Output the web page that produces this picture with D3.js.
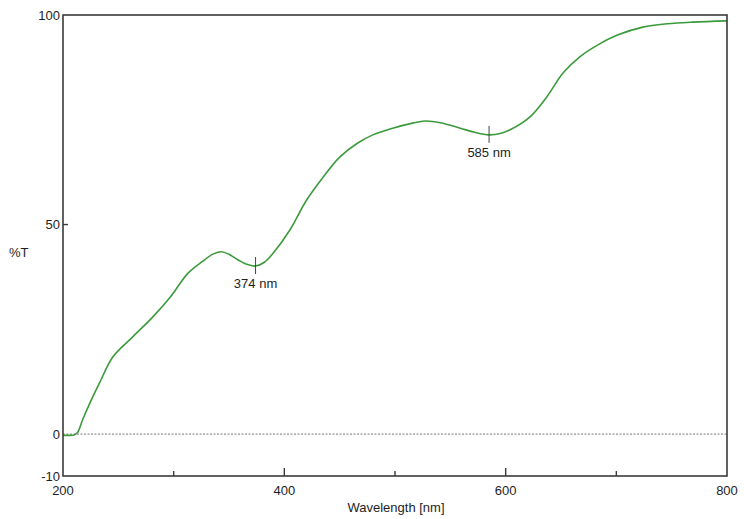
<!DOCTYPE html>
<html>
<head>
<meta charset="utf-8">
<script src="https://cdn.jsdelivr.net/npm/d3@7"></script>
<style>
  body { margin: 0; background: #fff; }
  svg { display: block; font-family: "Liberation Sans", Arial, sans-serif; }
</style>
</head>
<body>
<svg id="chart" width="744" height="519"></svg>
<script>
// Transmission spectrum: wavelength (nm) vs %T
const wavelength = [200, 205, 210, 213, 218, 225, 233, 245, 263, 281, 297, 313, 326, 336, 343, 350, 358, 366, 374, 382, 390, 405, 420, 435, 450, 466, 480, 498, 516, 527, 541, 559, 572, 585, 596, 604, 622, 637, 652, 667, 683, 701, 724, 746, 769, 800];
const transmission = [-0.3, -0.3, -0.2, 0.3, 3.6, 7.8, 12.2, 18.4, 23.2, 27.9, 32.7, 38.4, 41.2, 43.0, 43.5, 42.9, 41.6, 40.5, 40.1, 41.0, 43.2, 48.7, 55.8, 61.3, 66.1, 69.4, 71.4, 73.0, 74.2, 74.7, 74.3, 73.0, 72.0, 71.4, 71.8, 72.6, 75.7, 80.4, 86.2, 90.0, 92.8, 95.2, 97.1, 97.9, 98.3, 98.6];

// Marked minima
const peakWavelengths = [374, 585];
const peakValues = [40.1, 71.4];
const peakLabels = ["374 nm", "585 nm"];

// Axis ticks
const yTickValues = [-10, 0, 50, 100];
const xTickValues = [200, 400, 600, 800];
const xMinorTicks = [300, 500, 700];
const xMajorInner = [400, 600];

const svg = d3.select("#chart");
const margin = { left: 63, right: 17, top: 15, bottom: 43 };
const W = 744, H = 519;

const x = d3.scaleLinear().domain([200, 800]).range([margin.left, W - margin.right]);
const y = d3.scaleLinear().domain([-10, 100]).range([H - margin.bottom, margin.top]);

const axisColor = "#3a3a3a";
const textColor = "#1e1e1e";

// Zero reference line
svg.append("line")
  .attr("x1", x(200)).attr("x2", x(800))
  .attr("y1", y(0)).attr("y2", y(0))
  .attr("stroke", "#777").attr("stroke-width", 1)
  .attr("stroke-dasharray", "2,1.5");

// Spectrum curve
const line = d3.line()
  .x((d, i) => x(wavelength[i]))
  .y(d => y(d))
  .curve(d3.curveCatmullRom.alpha(0.5));

svg.append("path")
  .datum(transmission)
  .attr("d", line)
  .attr("fill", "none")
  .attr("stroke", "#3c9a3c")
  .attr("stroke-width", 1.6);

// Frame
svg.append("rect")
  .attr("x", x(200)).attr("y", y(100))
  .attr("width", x(800) - x(200)).attr("height", y(-10) - y(100))
  .attr("fill", "none").attr("stroke", axisColor).attr("stroke-width", 1.6);

// Inward ticks on bottom axis
svg.selectAll(".xminor").data(xMinorTicks).enter().append("line")
  .attr("x1", d => x(d)).attr("x2", d => x(d))
  .attr("y1", y(-10)).attr("y2", y(-10) - 5)
  .attr("stroke", axisColor).attr("stroke-width", 1.4);
svg.selectAll(".xmajor").data(xMajorInner).enter().append("line")
  .attr("x1", d => x(d)).attr("x2", d => x(d))
  .attr("y1", y(-10)).attr("y2", y(-10) - 8)
  .attr("stroke", axisColor).attr("stroke-width", 1.4);

// Inward tick on left axis
svg.append("line")
  .attr("x1", x(200)).attr("x2", x(200) + 5)
  .attr("y1", y(50)).attr("y2", y(50))
  .attr("stroke", axisColor).attr("stroke-width", 1.4);

// Tick labels
svg.selectAll(".ylab").data(yTickValues).enter().append("text")
  .attr("x", x(200) - 3)
  .attr("y", d => y(d))
  .attr("dy", "0.35em")
  .attr("text-anchor", "end")
  .attr("font-size", 13)
  .attr("fill", textColor)
  .text(d => d);

svg.selectAll(".xlab").data(xTickValues).enter().append("text")
  .attr("x", d => x(d))
  .attr("y", y(-10) + 19)
  .attr("text-anchor", "middle")
  .attr("font-size", 13)
  .attr("fill", textColor)
  .text(d => d);

// Axis titles
svg.append("text")
  .attr("x", 396).attr("y", 512)
  .attr("text-anchor", "middle")
  .attr("font-size", 13)
  .attr("fill", textColor)
  .text("Wavelength [nm]");

svg.append("text")
  .attr("x", 9).attr("y", 257)
  .attr("font-size", 13)
  .attr("fill", textColor)
  .text("%T");

// Minimum markers with labels
peakWavelengths.forEach((w, i) => {
  const px = x(w), py = y(peakValues[i]);
  svg.append("line")
    .attr("x1", px).attr("x2", px)
    .attr("y1", py - 9).attr("y2", py + 8)
    .attr("stroke", "#444").attr("stroke-width", 1);
  svg.append("text")
    .attr("x", px).attr("y", py + 22)
    .attr("text-anchor", "middle")
    .attr("font-size", 13)
    .attr("fill", textColor)
    .text(peakLabels[i]);
});
</script>
</body>
</html>
